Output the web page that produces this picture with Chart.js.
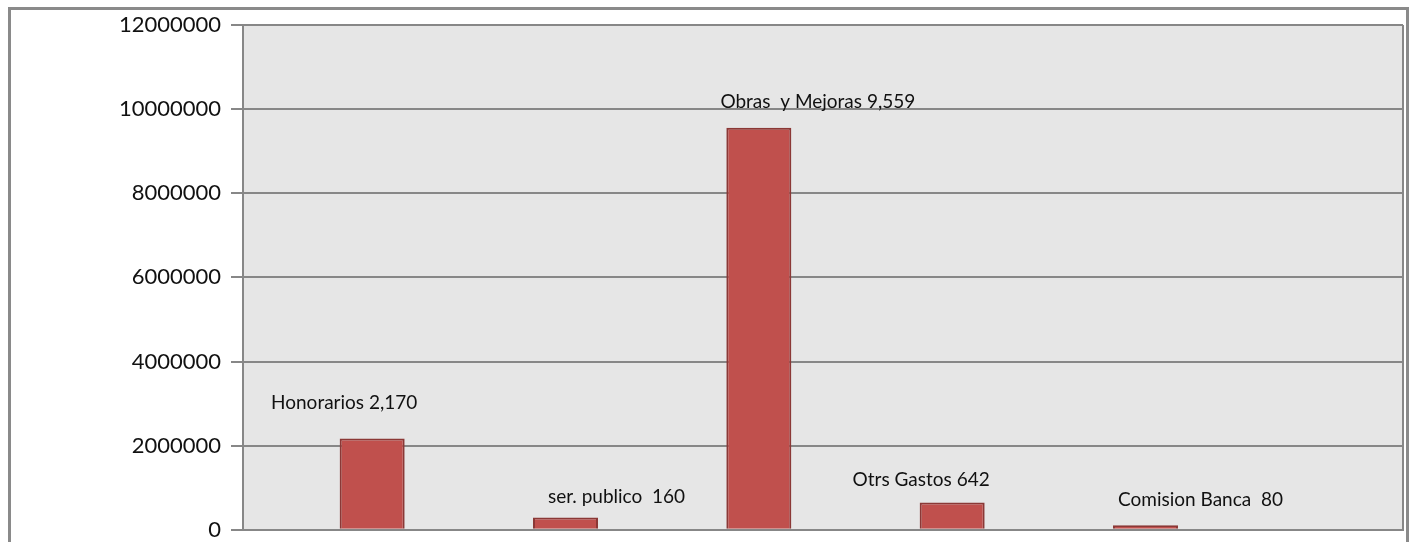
<!DOCTYPE html>
<html>
<head>
<meta charset="utf-8">
<script src="https://cdn.jsdelivr.net/npm/chart.js@4/dist/chart.umd.min.js"></script>
<style>
  body { margin: 0; background: #fff; }
  #wrap { width: 1413px; height: 542px; }
</style>
</head>
<body>
<div id="wrap"><canvas id="myChart" width="1413" height="542"></canvas></div>
<script>
// data
var categories = ["Honorarios", "ser. publico", "Obras y Mejoras", "Otrs Gastos", "Comision Banca", ""];
var gastos = [2170000, 290000, 9559000, 650000, 110000, null];
var emptySeries = [null, null, null, null, null, null];
var pointLabels = ["Honorarios 2,170", "ser. publico  160", "Obras  y Mejoras 9,559", "Otrs Gastos 642", "Comision Banca  80"];
var yTicks = [0, 2000000, 4000000, 6000000, 8000000, 10000000, 12000000];

// where each label sits relative to the top of its bar (hand placed in the original)
var labelOffsets = [[-28, -36], [51, -21], [59, -26], [-31, -23], [55, -25]];

var gridGray = "#878787";

var frame = {
  id: "frame",
  beforeDraw: function(chart) {
    var ctx = chart.ctx;
    var a = chart.chartArea;
    ctx.save();
    ctx.fillStyle = "#e6e6e6";
    ctx.fillRect(a.left, a.top, a.right - a.left, a.bottom - a.top);
    ctx.restore();
  },
  afterDraw: function(chart) {
    var ctx = chart.ctx;
    var a = chart.chartArea;
    ctx.save();
    ctx.strokeStyle = gridGray;
    ctx.lineWidth = 2;
    ctx.beginPath();
    ctx.moveTo(a.right, a.top);
    ctx.lineTo(a.right, a.bottom);
    ctx.stroke();
    ctx.strokeStyle = "#8a8a8a";
    ctx.lineWidth = 3;
    ctx.strokeRect(9.5, 8.5, 1398, 600);
    ctx.restore();
  }
};

var barLabels = {
  id: "barLabels",
  afterDatasetsDraw: function(chart) {
    var ctx = chart.ctx;
    var meta = chart.getDatasetMeta(1);
    ctx.save();
    ctx.font = "19px Lato";
    ctx.fillStyle = "#111";
    ctx.textAlign = "center";
    ctx.textBaseline = "middle";
    for (var i = 0; i < pointLabels.length; i++) {
      var bar = meta.data[i];
      ctx.fillText(pointLabels[i], bar.x + labelOffsets[i][0], bar.y + labelOffsets[i][1]);
    }
    ctx.restore();
  }
};

new Chart("myChart", {
  type: "bar",
  data: {
    labels: categories,
    datasets: [
      {
        data: emptySeries,
        backgroundColor: "#4f81bd"
      },
      {
        data: gastos,
        backgroundColor: "#c0504d",
        borderColor: "#8b3836",
        borderWidth: 2
      }
    ]
  },
  options: {
    responsive: false,
    animation: false,
    devicePixelRatio: 1,
    categoryPercentage: 0.6725,
    barPercentage: 1,
    layout: { autoPadding: false, padding: { left: 0, top: 25, right: 10, bottom: 0 } },
    plugins: {
      legend: { display: false },
      tooltip: { enabled: false }
    },
    scales: {
      x: {
        grid: { display: false },
        border: { color: gridGray, width: 2 },
        ticks: { display: false },
        afterFit: function(scale) { scale.height = 12; }
      },
      y: {
        min: 0,
        max: 12000000,
        afterBuildTicks: function(scale) {
          scale.ticks = yTicks.map(function(v) { return { value: v }; });
        },
        // small padding + tiny lineHeight so the labels don't push the plot up
        ticks: {
          padding: 10,
          color: "#111",
          font: { family: "Lato", size: 22, lineHeight: 0.2 },
          callback: function(v) { return String(v); }
        },
        grid: { color: gridGray, lineWidth: 2, tickLength: 12 },
        border: { color: gridGray, width: 2 },
        afterFit: function(scale) { scale.width = 243; }
      }
    }
  },
  plugins: [frame, barLabels]
});
</script>
</body>
</html>
